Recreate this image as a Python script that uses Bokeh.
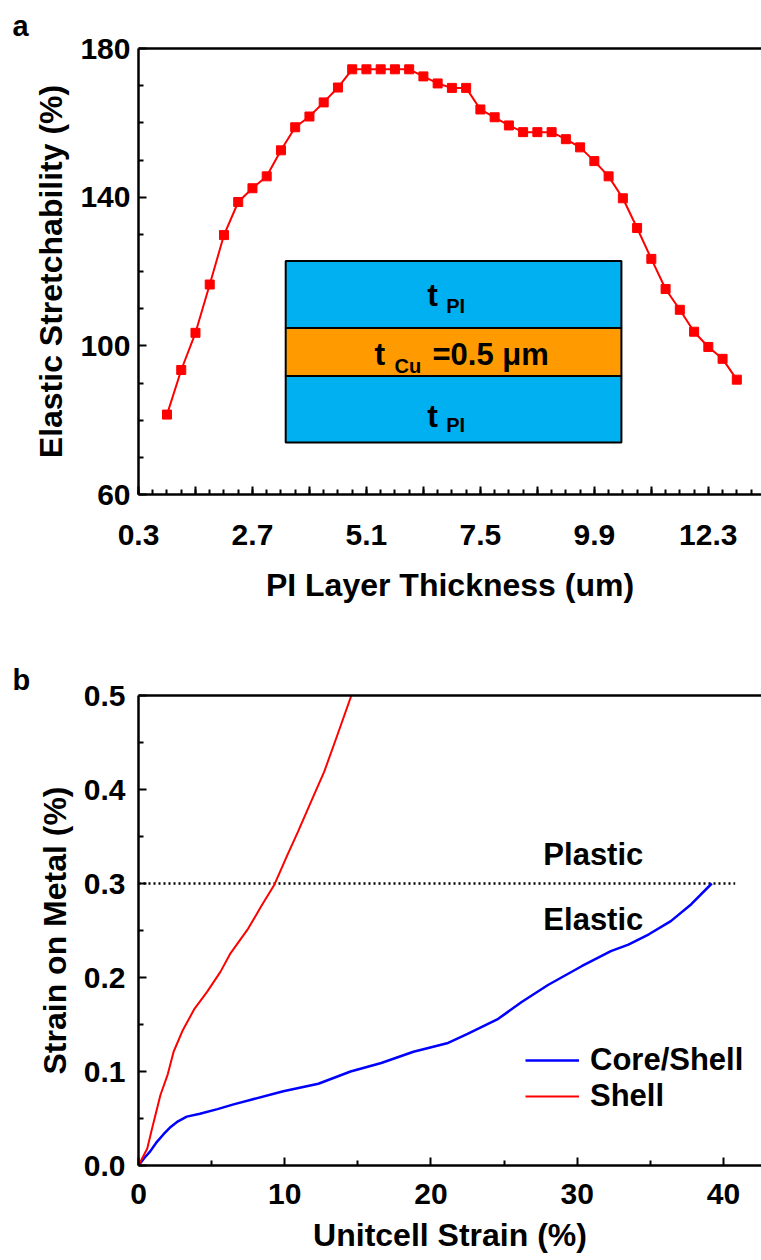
from bokeh.plotting import figure
from bokeh.models import LinearAxis, FixedTicker, Label, Legend, LegendItem, Range1d
from bokeh.layouts import column
from bokeh.embed import file_html
from bokeh.resources import INLINE

FONT = "Liberation Sans"

# ---- panel a: elastic stretchability vs PI layer thickness ----
thickness_um = [0.9, 1.2, 1.5, 1.8, 2.1, 2.4, 2.7, 3.0, 3.3, 3.6, 3.9, 4.2, 4.5,
                4.8, 5.1, 5.4, 5.7, 6.0, 6.3, 6.6, 6.9, 7.2, 7.5, 7.8, 8.1, 8.4,
                8.7, 9.0, 9.3, 9.6, 9.9, 10.2, 10.5, 10.8, 11.1, 11.4, 11.7,
                12.0, 12.3, 12.6, 12.9]
stretchability = [81.5, 93.5, 103.5, 116.5, 129.8, 138.7, 142.4, 145.6, 152.6,
                  158.8, 161.7, 165.5, 169.5, 174.4, 174.4, 174.4, 174.4, 174.4,
                  172.5, 170.6, 169.4, 169.4, 163.6, 161.5, 159.3, 157.5, 157.5,
                  157.5, 155.6, 153.4, 149.7, 145.6, 139.7, 131.7, 123.4, 115.3,
                  109.7, 103.8, 99.7, 96.5, 90.9]
a_major_ticks = [0.3, 1.5, 2.7, 3.9, 5.1, 6.3, 7.5, 8.7, 9.9, 11.1, 12.3]
a_tick_labels = ["0.3", "", "2.7", "", "5.1", "", "7.5", "", "9.9", "", "12.3"]
a_y_ticks = [60, 100, 140, 180]

# ---- panel b: strain on metal vs unit-cell strain ----
core_shell_x = [0, 0.4, 0.8, 1.2, 1.7, 2.2, 2.7, 3.3, 4.2, 5.4, 6.5, 7.7, 9.9,
                12.3, 14.5, 16.6, 18.8, 21.1, 22.5, 24.6, 26.2, 28.0, 30.3, 32.3,
                33.5, 34.9, 36.4, 37.8, 39.2]
core_shell_y = [0, 0.008, 0.015, 0.024, 0.033, 0.041, 0.047, 0.052, 0.055, 0.060,
                0.065, 0.070, 0.079, 0.087, 0.100, 0.109, 0.121, 0.130, 0.140,
                0.156, 0.174, 0.192, 0.212, 0.228, 0.235, 0.246, 0.260, 0.278, 0.300]
shell_x = [0, 0.3, 0.6, 1.0, 1.5, 2.0, 2.4, 3.0, 3.8, 4.7, 5.6, 6.3, 7.5, 8.4,
           9.3, 10.2, 10.9, 11.8, 12.7, 13.6, 14.6]
shell_y = [0, 0.009, 0.018, 0.044, 0.075, 0.097, 0.121, 0.143, 0.166, 0.185,
           0.206, 0.226, 0.252, 0.276, 0.299, 0.331, 0.355, 0.387, 0.419, 0.458, 0.502]
yield_strain = 0.3
yield_line_x = [0, 40.8]
b_x_ticks = [0, 10, 20, 30, 40]
b_y_ticks = [0.0, 0.1, 0.2, 0.3, 0.4, 0.5]
b_y_labels = ["0.0", "0.1", "0.2", "0.3", "0.4", "0.5"]


def style_axis(ax, label_standoff, title_standoff):
    ax.axis_line_width = 2.5
    ax.axis_line_color = "black"
    ax.major_tick_in = 8
    ax.major_tick_out = 0
    ax.minor_tick_in = 5
    ax.minor_tick_out = 0
    ax.major_tick_line_width = 2
    ax.minor_tick_line_width = 2
    ax.major_label_text_font = FONT
    ax.major_label_text_font_style = "bold"
    ax.major_label_text_font_size = "30px"
    ax.major_label_text_color = "black"
    ax.major_label_standoff = label_standoff
    ax.axis_label_text_font = FONT
    ax.axis_label_text_font_style = "bold"
    ax.axis_label_text_font_size = "32px"
    ax.axis_label_text_color = "black"
    ax.axis_label_standoff = title_standoff


def top_line(p):
    ax = LinearAxis(ticker=FixedTicker(ticks=[]))
    ax.axis_line_width = 2.5
    ax.axis_line_color = "black"
    ax.major_tick_in = 0
    ax.major_tick_out = 0
    ax.minor_tick_in = 0
    ax.minor_tick_out = 0
    p.add_layout(ax, "above")


def panel_tag(p, text, vertical_align, standoff):
    p.title.text = text
    p.title.align = "left"
    p.title.vertical_align = vertical_align
    p.title.offset = -126
    p.title.standoff = standoff
    p.title.text_font = FONT
    p.title.text_font_style = "bold"
    p.title.text_font_size = "29px"
    p.title.text_color = "black"


def bold_label(p, x, y, text, size, align="left"):
    p.add_layout(Label(x=x, y=y, text=text, text_font=FONT, text_font_style="bold",
                       text_font_size=size, text_color="black",
                       text_align=align, text_baseline="middle"))


def blank(p):
    p.grid.visible = False
    p.outline_line_color = None
    p.background_fill_color = "white"
    p.border_fill_color = "white"


# ---------------- panel a ----------------
pa = figure(width=761, height=640, x_range=Range1d(0.3, 13.42), y_range=Range1d(60, 180),
            output_backend="svg", toolbar_location=None,
            min_border_left=138, min_border_right=0, min_border_top=48, min_border_bottom=146)
blank(pa)
panel_tag(pa, "a", "top", 10)

pa.xaxis.ticker = FixedTicker(ticks=a_major_ticks,
                              minor_ticks=[0.3 + 0.3 * i for i in range(44)])
pa.xaxis.major_label_overrides = dict(zip(a_major_ticks, a_tick_labels))
pa.xaxis.axis_label = "PI Layer Thickness (um)"
style_axis(pa.xaxis[0], 30, 19)
pa.yaxis.ticker = FixedTicker(ticks=a_y_ticks,
                              minor_ticks=[70, 80, 90, 110, 120, 130, 150, 160, 170])
pa.yaxis.axis_label = "Elastic Stretchability (%)"
style_axis(pa.yaxis[0], 8, 8)
top_line(pa)

pa.line(thickness_um, stretchability, line_color="#FF0000", line_width=2)
pa.scatter(thickness_um, stretchability, marker="square", size=9,
           fill_color="#FF0000", line_color="#FF0000")

# PI / Cu / PI stack sketch
pa.quad(left=3.4, right=10.47, bottom=104.8, top=122.8,
        fill_color="#00B0F0", line_color="black", line_width=2)
pa.quad(left=3.4, right=10.47, bottom=91.9, top=104.8,
        fill_color="#FF9B00", line_color="black", line_width=2)
pa.quad(left=3.4, right=10.47, bottom=74.0, top=91.9,
        fill_color="#00B0F0", line_color="black", line_width=2)
bold_label(pa, 6.38, 113.8, "t", "32px")
bold_label(pa, 6.78, 110.6, "PI", "20px")
bold_label(pa, 5.27, 97.7, "t", "32px")
bold_label(pa, 5.69, 94.7, "Cu", "20px")
bold_label(pa, 6.49, 97.7, "=0.5 μm", "31px")
bold_label(pa, 6.38, 81.0, "t", "32px")
bold_label(pa, 6.78, 78.6, "PI", "20px")

# ---------------- panel b ----------------
pb = figure(width=761, height=620, x_range=Range1d(0, 42.6), y_range=Range1d(0, 0.5),
            output_backend="svg", toolbar_location=None,
            min_border_left=138, min_border_right=0, min_border_top=55, min_border_bottom=95)
blank(pb)
panel_tag(pb, "b", "bottom", 0)

pb.xaxis.ticker = FixedTicker(ticks=b_x_ticks, minor_ticks=[5, 15, 25, 35])
pb.xaxis.axis_label = "Unitcell Strain (%)"
style_axis(pb.xaxis[0], 18, 10)
pb.yaxis.ticker = FixedTicker(ticks=b_y_ticks, minor_ticks=[0.05, 0.15, 0.25, 0.35, 0.45])
pb.yaxis.major_label_overrides = dict(zip(b_y_ticks, b_y_labels))
pb.yaxis.axis_label = "Strain on Metal (%)"
style_axis(pb.yaxis[0], 13, 8)
top_line(pb)

pb.line(yield_line_x, [yield_strain, yield_strain], line_color="black",
        line_width=2.5, line_dash="2 3")
r_core = pb.line(core_shell_x, core_shell_y, line_color="#0000FF", line_width=2.5)
r_shell = pb.line(shell_x, shell_y, line_color="#FF0000", line_width=2)

bold_label(pb, 31.1, 0.331, "Plastic", "31px", align="center")
bold_label(pb, 31.1, 0.262, "Elastic", "31px", align="center")

legend = Legend(items=[LegendItem(label="Core/Shell", renderers=[r_core]),
                       LegendItem(label="Shell", renderers=[r_shell])],
                location=(387, 51), orientation="vertical")
legend.border_line_color = None
legend.background_fill_alpha = 0
legend.padding = 0
legend.margin = 0
legend.spacing = 0
legend.glyph_width = 54
legend.glyph_height = 30
legend.label_height = 30
legend.label_standoff = 11
legend.label_text_font = FONT
legend.label_text_font_style = "bold"
legend.label_text_font_size = "31px"
legend.label_text_color = "black"
pb.add_layout(legend, "center")

layout = column(pa, pb, spacing=0)
open("out.html", "w").write(file_html(layout, INLINE))
